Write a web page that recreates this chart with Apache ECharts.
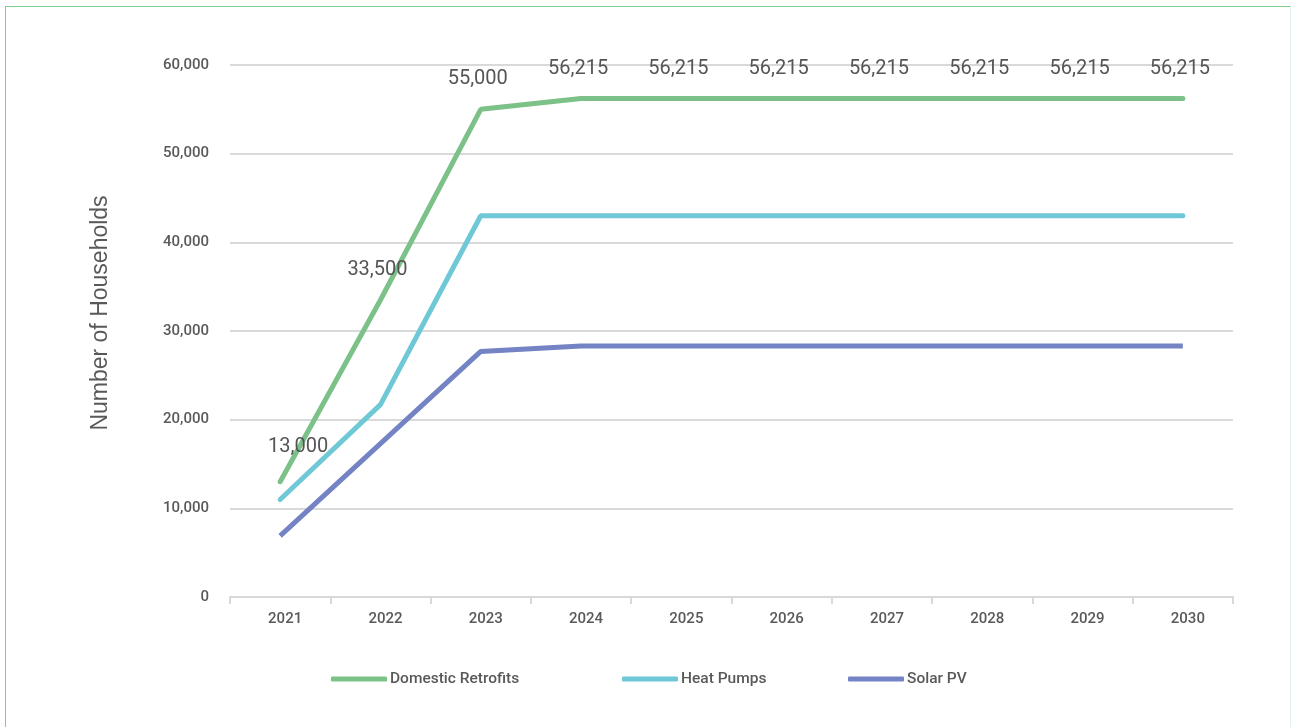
<!DOCTYPE html>
<html>
<head>
<meta charset="utf-8">
<script src="https://cdn.jsdelivr.net/npm/echarts@6/dist/echarts.min.js"></script>
<style>
  html, body { margin: 0; padding: 0; background: #fff; }
  .frame {
    position: absolute; left: 5px; top: 6px; width: 1284px; height: 740px;
    border-left: 1px solid #7fcf8e; border-top: 1px solid #7fcf8e;
    border-right: 1px solid #e3f2e7;
  }
  #chart { position: absolute; left: 0; top: 0; width: 1291px; height: 727px; }
</style>
</head>
<body>
<div class="frame"></div>
<div id="chart"></div>
<script>
const years = ["2021", "2022", "2023", "2024", "2025", "2026", "2027", "2028", "2029", "2030"];
const domesticRetrofits = [13000, 33500, 55000, 56215, 56215, 56215, 56215, 56215, 56215, 56215];
const heatPumps = [11000, 21700, 43000, 43000, 43000, 43000, 43000, 43000, 43000, 43000];
const solarPV = [6900, 17300, 27700, 28300, 28300, 28300, 28300, 28300, 28300, 28300];

const textColor = "#595959";
const gridColor = "#d9d9d9";

const chart = echarts.init(document.getElementById("chart"));

// first label sits a little to the right in the original
const domesticData = domesticRetrofits.map((v, i) =>
  i === 0 ? { value: v, label: { offset: [18, -5] } } : v
);

const legendBase = {
  top: 666,
  itemWidth: 56,
  itemHeight: 5,
  icon: "roundRect",
  textStyle: { color: textColor, fontSize: 15.5, fontWeight: 500, padding: [0, 0, 0, -2] },
};

const option = {
  animation: false,
  color: ["#7cc188", "#6fc8d6", "#7383c3"],
  textStyle: { fontFamily: "Roboto" },
  legend: [
    { ...legendBase, data: ["Domestic Retrofits"], left: 326 },
    { ...legendBase, data: ["Heat Pumps"], left: 617 },
    { ...legendBase, data: ["Solar PV"], left: 843 },
  ],
  grid: { left: 230, right: 58, top: 65, bottom: 130 },
  xAxis: {
    type: "category",
    data: years,
    boundaryGap: true,
    axisLine: { lineStyle: { color: gridColor, width: 2 } },
    axisTick: { show: true, length: 7, lineStyle: { color: gridColor, width: 2 } },
    axisLabel: { color: textColor, fontSize: 15, fontWeight: 500, margin: 15, padding: [0, 0, 0, 10] },
  },
  yAxis: {
    type: "value",
    min: 0,
    max: 60000,
    interval: 10000,
    name: "Number of Households",
    nameLocation: "middle",
    nameGap: 118,
    nameTextStyle: { color: textColor, fontSize: 23, fontFamily: "Liberation Sans", padding: [0, 0, 0, 36] },
    axisLine: { show: false },
    axisTick: { show: false },
    axisLabel: {
      color: textColor,
      fontSize: 15,
      fontWeight: 500,
      margin: 21,
      formatter: (v) => v.toLocaleString("en-US"),
    },
    splitLine: { lineStyle: { color: gridColor, width: 2 } },
  },
  series: [
    {
      name: "Domestic Retrofits",
      type: "line",
      data: domesticData,
      symbol: "circle",
      symbolSize: 0,
      showSymbol: true,
      lineStyle: { width: 5, cap: "round" },
      label: {
        show: true,
        position: "top",
        distance: 20,
        offset: [-3, 0],
        color: "#555555",
        fontSize: 20,
        formatter: (p) => p.value.toLocaleString("en-US"),
      },
    },
    {
      name: "Heat Pumps",
      type: "line",
      data: heatPumps,
      symbol: "none",
      lineStyle: { width: 5, cap: "round" },
    },
    {
      name: "Solar PV",
      type: "line",
      data: solarPV,
      symbol: "none",
      lineStyle: { width: 5 },
    },
  ],
};

chart.setOption(option);
</script>
</body>
</html>
